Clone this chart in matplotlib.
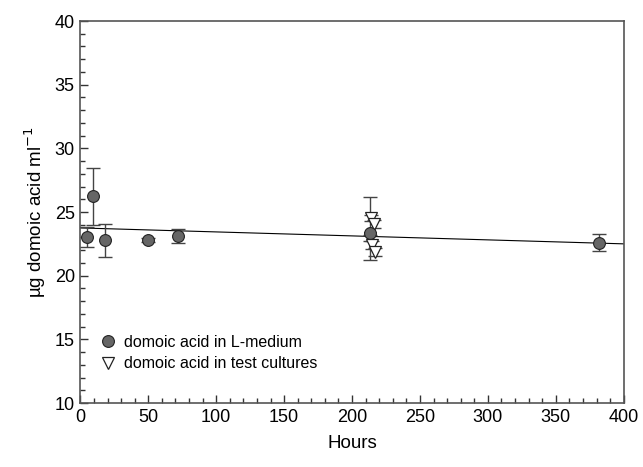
import matplotlib
matplotlib.use("Agg")
import matplotlib.pyplot as plt
from matplotlib.ticker import MultipleLocator

plt.rcParams['font.family'] = ['Liberation Sans', 'DejaVu Sans']

# domoic acid in L-medium (circles)
med_hours = [5, 9.5, 18, 50, 72, 213, 382]
med_da = [23.05, 26.25, 22.8, 22.8, 23.1, 23.35, 22.6]
med_err_lo = [0.8, 2.3, 1.35, 0.15, 0.55, 2.1, 0.7]
med_err_hi = [0.8, 2.2, 1.25, 0.15, 0.55, 2.85, 0.65]

# domoic acid in test cultures (triangles)
test_hours = [214, 216, 213, 215, 217]
test_da = [24.55, 24.05, 22.95, 22.4, 21.85]
test_err = [0.25, 0.3, 0.25, 0.3, 0.3]

# regression line
line_hours = [0, 400]
line_da = [23.75, 22.5]

fig = plt.figure(figsize=(6.43, 4.67), dpi=100)
ax = fig.add_axes([0.125, 0.137, 0.845, 0.818])

ax.plot(line_hours, line_da, color='black', lw=0.8, zorder=2)

ax.errorbar(test_hours, test_da, yerr=test_err, fmt='none', ecolor='#444444',
            elinewidth=1, capsize=5, capthick=1, zorder=3)
ax.plot(test_hours, test_da, 'v', ms=8.5, mfc='white', mec='#222222', mew=0.9,
        ls='none', zorder=4, label='domoic acid in test cultures')

ax.errorbar(med_hours, med_da, yerr=[med_err_lo, med_err_hi], fmt='none',
            ecolor='#444444', elinewidth=1, capsize=5, capthick=1, zorder=3)
ax.plot(med_hours, med_da, 'o', ms=8.5, mfc='#666666', mec='#222222', mew=0.8,
        ls='none', zorder=5, label='domoic acid in L-medium')

ax.set_xlim(0, 400)
ax.set_ylim(10, 40)
ax.xaxis.set_major_locator(MultipleLocator(50))
ax.xaxis.set_minor_locator(MultipleLocator(10))
ax.yaxis.set_major_locator(MultipleLocator(5))
ax.yaxis.set_minor_locator(MultipleLocator(1))
ax.tick_params(which='major', direction='in', length=6, width=1, color='#333333',
               labelsize=13, pad=4)
ax.tick_params(which='minor', direction='in', length=3.5, width=1, color='#333333')
ax.tick_params(top=False, right=False, which='both')
for s in ax.spines.values():
    s.set_color('#555555')
    s.set_linewidth(1.2)

ax.set_xlabel('Hours', fontsize=13.5, labelpad=7)
ax.set_ylabel('µg domoic acid ml$^{-1}$', fontsize=13.5, labelpad=5)

handles, labels = ax.get_legend_handles_labels()
ax.legend(handles[::-1], labels[::-1], loc='lower left', bbox_to_anchor=(0.01, 0.045),
          frameon=False, fontsize=11.5, handletextpad=0.5, labelspacing=0.4,
          handlelength=1.0)

fig.savefig('out.png', dpi=100)
